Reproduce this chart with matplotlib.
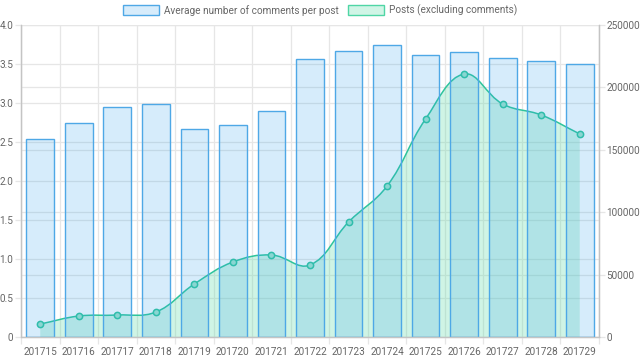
import numpy as np
from matplotlib import pyplot as plt
from matplotlib.path import Path
from matplotlib.patches import PathPatch, Patch

weeks = ['201715', '201716', '201717', '201718', '201719', '201720', '201721', '201722',
         '201723', '201724', '201725', '201726', '201727', '201728', '201729']
avg_comments = [2.54, 2.74, 2.95, 2.99, 2.67, 2.72, 2.90, 3.56,
                3.67, 3.74, 3.62, 3.65, 3.58, 3.54, 3.50]
posts = [10400, 16800, 17600, 20000, 42500, 60100, 65700, 57700,
         92100, 121000, 174700, 210700, 186700, 177900, 162700]

left_ticks = [0, 0.5, 1.0, 1.5, 2.0, 2.5, 3.0, 3.5, 4.0]
right_ticks = [0, 50000, 100000, 150000, 200000, 250000]

TXT = '#666666'
GRID = '#e6e6e6'
AXIS = '#c4c4c4'
BAR_FACE = (54/255, 162/255, 235/255, 0.2)
BAR_EDGE = '#4ea8e6'
LINE = '#2ec49c'
FILL = (67/255, 215/255, 155/255, 0.25)

plt.rcParams['font.family'] = ['Roboto', 'DejaVu Sans']
plt.rcParams['font.size'] = 7.2


def spline_path(xs, ys, sx, sy, tension=0.4):
    # chart.js style bezier, control points worked out in pixel space
    px = np.asarray(xs, float) * sx
    py = np.asarray(ys, float) * sy
    n = len(px)
    cps = []
    for i in range(n):
        p0 = np.array([px[max(i-1, 0)], py[max(i-1, 0)]])
        p1 = np.array([px[i], py[i]])
        p2 = np.array([px[min(i+1, n-1)], py[min(i+1, n-1)]])
        d01 = np.hypot(*(p1 - p0))
        d12 = np.hypot(*(p2 - p1))
        tot = d01 + d12
        s01 = d01 / tot if tot else 0
        s12 = d12 / tot if tot else 0
        prev_cp = p1 - tension * s01 * (p2 - p0)
        next_cp = p1 + tension * s12 * (p2 - p0)
        cps.append((prev_cp, next_cp))
    verts = [(px[0], py[0])]
    codes = [Path.MOVETO]
    for i in range(n - 1):
        verts += [tuple(cps[i][1]), tuple(cps[i+1][0]), (px[i+1], py[i+1])]
        codes += [Path.CURVE4] * 3
    verts = [(x / sx, y / sy) for x, y in verts]
    return verts, codes


fig = plt.figure(figsize=(6.4, 3.6), dpi=100)
ax = fig.add_axes([21/640, 1 - 337/360, 578/640, 312/360])
ax2 = ax.twinx()

x = np.arange(len(weeks))

# bars on top of the line fill
ax.set_zorder(ax2.get_zorder() + 1)
ax.patch.set_visible(False)

# grid lines (drawn on the back axes)
for t in right_ticks:
    ax2.axhline(t, color=GRID, lw=0.9, zorder=0)
for t in left_ticks:
    ax2.axhline(t / 4.0 * 250000, color=GRID, lw=0.9, zorder=0)
for b in np.arange(-0.5, len(weeks), 1.0):
    ax2.axvline(b, color=GRID, lw=0.9, zorder=0)

# posts line with filled area
sx = 578 / 15.0
sy = 312 / 250000.0
verts, codes = spline_path(x, posts, sx, sy)
ax2.add_patch(PathPatch(Path(verts, codes), fill=False, edgecolor=LINE, lw=1.1, zorder=3))
fverts = verts + [(x[-1], 0), (x[0], 0), verts[0]]
fcodes = codes + [Path.LINETO, Path.LINETO, Path.CLOSEPOLY]
ax2.add_patch(PathPatch(Path(fverts, fcodes), facecolor=FILL, edgecolor='none', zorder=2))
ax2.plot(x, posts, 'o', ms=4.5, mfc='#9fe3cc', mec=LINE, mew=1.1, zorder=4)

# average comments bars
ax.bar(x, avg_comments, width=0.72, color=BAR_FACE, edgecolor=BAR_EDGE, linewidth=1.0)

ax.set_xlim(-0.5, len(weeks) - 0.5)
ax.set_ylim(0, 4)
ax2.set_ylim(0, 250000)

ax.set_xticks(x)
ax.set_xticklabels(weeks)
ax.set_xticks(np.arange(-0.5, len(weeks), 1.0), minor=True)
ax.tick_params(axis='x', which='major', length=0, pad=7, colors=TXT)
ax.tick_params(axis='x', which='minor', length=5, color=GRID, width=0.9)

ax.set_yticks(left_ticks)
ax.set_yticklabels(['0' if t == 0 else '{:.1f}'.format(t) for t in left_ticks])
ax.tick_params(axis='y', length=4, width=0.9, pad=1.5, colors=TXT)
ax.tick_params(axis='y', color=GRID)

ax2.set_yticks(right_ticks)
ax2.set_yticklabels([str(t) for t in right_ticks])
ax2.tick_params(axis='y', length=4, width=0.9, pad=1.2, colors=TXT)
ax2.tick_params(axis='y', color=GRID)

for a in (ax, ax2):
    a.spines['top'].set_visible(False)
    for side in ('left', 'right', 'bottom'):
        a.spines[side].set_color(AXIS)
        a.spines[side].set_linewidth(0.9)

handles = [Patch(facecolor='#d7ecfb', edgecolor=BAR_EDGE, lw=1.0),
           Patch(facecolor='#d0f5e6', edgecolor='#4fd6a5', lw=1.0)]
fig.legend(handles, ['Average number of comments per post', 'Posts (excluding comments)'],
           loc='upper center', bbox_to_anchor=(0.5, 1.012), ncol=2, frameon=False,
           handlelength=3.6, handleheight=1.1, handletextpad=0.5, columnspacing=1.0,
           labelcolor=TXT, fontsize=7.2)

fig.savefig('out.png', dpi=100)
